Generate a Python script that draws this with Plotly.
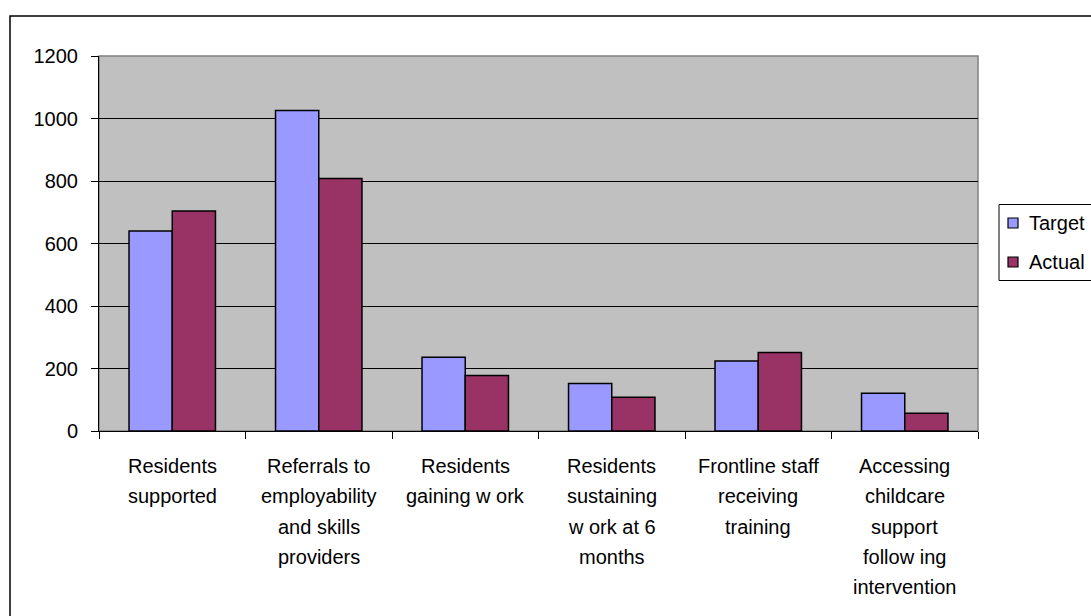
import plotly.graph_objects as go

categories = [
    "Residents<br>supported",
    "Referrals to<br>employability<br>and skills<br>providers",
    "Residents<br>gaining w ork",
    "Residents<br>sustaining<br>w ork at 6<br>months",
    "Frontline staff<br>receiving<br>training",
    "Accessing<br>childcare<br>support<br>follow ing<br>intervention",
]
series_names = ["Target", "Actual"]
target = [640, 1026, 236, 152, 224, 121]
actual = [704, 808, 178, 108, 251, 57]
y_ticks = [0, 200, 400, 600, 800, 1000, 1200]
colors = ["#9999FF", "#993366"]

W, H = 1091, 616
L, R, T, B = 99, 113, 56, 185
PW, PH = W - L - R, H - T - B


def px(x):
    return (x - L) / PW


def py(y):
    return (H - B - y) / PH


FONT = dict(family="Liberation Sans, Arial, sans-serif", size=20, color="black")

fig = go.Figure()
for name, vals, col in zip(series_names, [target, actual], colors):
    fig.add_trace(go.Bar(name=name, x=categories, y=vals, showlegend=False,
                         marker=dict(color=col, line=dict(color="black", width=1.5))))

annotations = []
# category labels, one line per annotation for Excel-like line spacing
for cat in categories:
    for i, line in enumerate(cat.split("<br>")):
        annotations.append(dict(x=cat, xref="x", y=0, yref="y", text=line,
                                showarrow=False, xanchor="center", yanchor="middle",
                                yshift=-(35 + 30.3 * i), font=FONT))

shapes = [
    dict(type="rect", xref="paper", yref="paper", x0=0, x1=1, y0=0, y1=1,
         line=dict(color="#808080", width=1.5), layer="below"),
    dict(type="rect", xref="paper", yref="paper", x0=px(10), x1=px(1100),
         y0=py(640), y1=py(16), line=dict(color="black", width=1.5),
         fillcolor="rgba(0,0,0,0)"),
    # legend box
    dict(type="rect", xref="paper", yref="paper", x0=px(999), x1=px(1100),
         y0=py(280.5), y1=py(204.5), line=dict(color="black", width=1),
         fillcolor="white"),
]
legend_rows = [223, 262]
for name, col, yc in zip(series_names, colors, legend_rows):
    shapes.append(dict(type="rect", xref="paper", yref="paper",
                       x0=px(1008), x1=px(1018), y0=py(yc + 5), y1=py(yc - 5),
                       line=dict(color="black", width=1.2), fillcolor=col))
    annotations.append(dict(x=px(1027), xref="paper", y=py(yc), yref="paper",
                            text=name, showarrow=False, xanchor="left",
                            yanchor="middle", font=FONT))

fig.update_layout(
    width=W, height=H,
    margin=dict(l=L, r=R, t=T, b=B),
    paper_bgcolor="white",
    plot_bgcolor="#C0C0C0",
    font=FONT,
    barmode="group",
    bargap=0.41,
    bargroupgap=0,
    showlegend=False,
    xaxis=dict(type="category", tickson="boundaries", ticks="outside", ticklen=7,
               tickcolor="black", showline=True, linecolor="black", linewidth=1,
               showgrid=False, showticklabels=False),
    yaxis=dict(range=[0, 1200], tickvals=y_ticks, ticks="outside", ticklen=7,
               tickcolor="black", showline=True, linecolor="black", linewidth=1,
               showgrid=True, gridcolor="black", gridwidth=1, zeroline=False,
               tickfont=FONT, ticklabelstandoff=9),
    shapes=shapes,
    annotations=annotations,
)

fig.write_html("out.html")
